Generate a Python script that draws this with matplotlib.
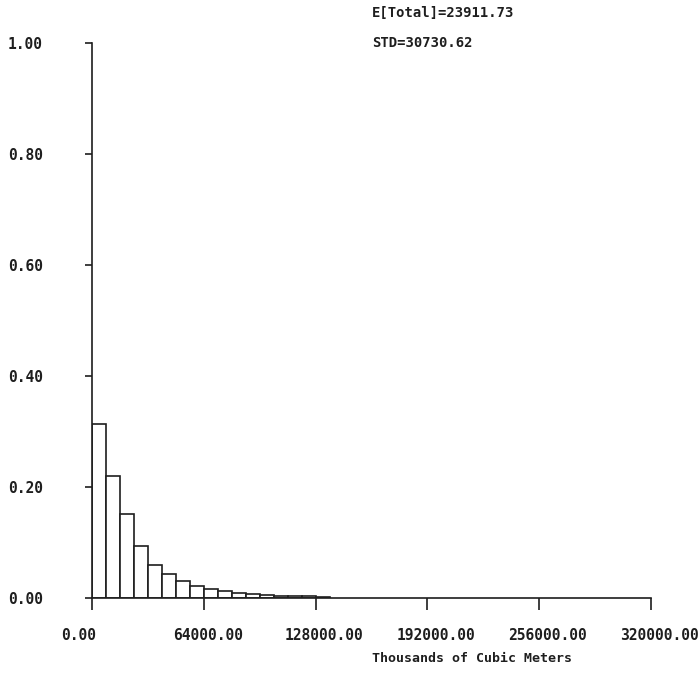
import numpy as np
import matplotlib
matplotlib.use('Agg')
import matplotlib.pyplot as plt
from matplotlib.transforms import ScaledTranslation

# histogram of simulated total volume (bins of 8000)
bin_width = 8000.0
probs = [0.314, 0.219, 0.151, 0.093, 0.060, 0.043, 0.031, 0.022, 0.016,
         0.013, 0.009, 0.0065, 0.0055, 0.0045, 0.0035, 0.003, 0.0025]
bin_left = np.arange(len(probs)) * bin_width

x_ticks = [0, 64000, 128000, 192000, 256000, 320000]
y_ticks = [0.0, 0.2, 0.4, 0.6, 0.8, 1.0]
mean_total = 23911.73
std_total = 30730.62

font = 'DejaVu Sans Mono'
ink = '#1e1e1e'
W, H = 700, 683

fig = plt.figure(figsize=(7, 6.83), dpi=100)
ax = fig.add_axes([92 / W, 85 / H, 559 / W, 555 / H])

ax.bar(bin_left, probs, width=bin_width, align='edge', color='white',
       edgecolor=ink, linewidth=1.2)

ax.set_xlim(0, 320000)
ax.set_ylim(0, 1)
for s in ['top', 'right']:
    ax.spines[s].set_visible(False)
for s in ['left', 'bottom']:
    ax.spines[s].set_linewidth(1.2)
    ax.spines[s].set_color(ink)

ax.set_xticks(x_ticks)
ax.set_xticklabels(['%.2f' % v for v in x_ticks], family=font,
                   fontweight='bold', fontsize=10.5, ha='left', color=ink)
ax.set_yticks(y_ticks)
ax.set_yticklabels(['%.2f' % v for v in y_ticks], family=font,
                   fontweight='bold', fontsize=10.5, ha='left', color=ink)

ax.tick_params(axis='x', direction='out', length=8.5, width=1.2, colors=ink, pad=13)
ax.tick_params(axis='y', direction='out', length=5, width=1.2, colors=ink, pad=55.5)

# shift x labels so they start left of the tick
shift = ScaledTranslation(-31 / 100, 0, fig.dpi_scale_trans)
for lbl in ax.get_xticklabels():
    lbl.set_transform(lbl.get_transform() + shift)

fig.text(372 / W, 1 - 13 / H, 'E[Total]=%.2f' % mean_total, family=font,
         fontsize=10, fontweight='bold', va='center', color=ink)
fig.text(372 / W, 1 - 43 / H, 'STD=%.2f' % std_total, family=font,
         fontsize=10, fontweight='bold', va='center', color=ink)
fig.text(372 / W, 1 - 658 / H, 'Thousands of Cubic Meters', family=font,
         fontsize=9.5, fontweight='bold', va='center', color=ink)

fig.savefig('out.png', dpi=100)
